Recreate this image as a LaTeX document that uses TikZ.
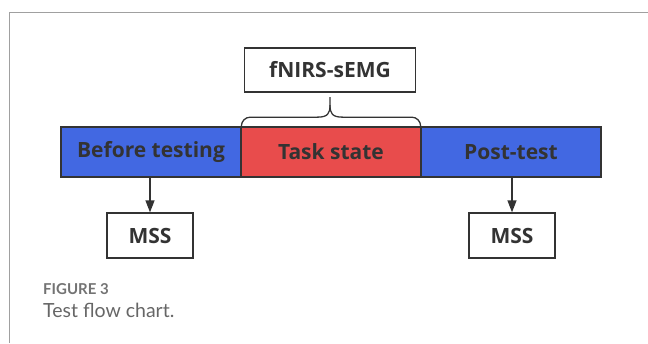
\documentclass[tikz,border=0pt]{standalone}
\usepackage{fontspec}
\setmainfont{Open Sans}
\newfontfamily\capfont{Lato}
\usetikzlibrary{arrows.meta,calc}
\definecolor{blueA}{RGB}{66,104,226}
\definecolor{redA}{RGB}{232,76,76}
\definecolor{ink}{RGB}{51,51,51}
\definecolor{framegray}{RGB}{160,160,160}
\tikzset{
  seg/.style={draw=ink, line width=1.3pt, minimum width=180pt, minimum height=50pt, inner sep=0pt,
    font=\fontsize{21}{24}\selectfont\bfseries, text=ink},
  wbox/.style={draw=ink, line width=1.3pt, fill=white, inner sep=0pt,
    font=\fontsize{21}{24}\selectfont\bfseries, text=ink},
  arr/.style={draw=ink, line width=1.3pt, -{Triangle[length=12pt,width=9pt]}},
  bracepath/.style={draw=ink, line width=1.3pt, line join=round},
  captop/.style={font=\capfont\bfseries\fontsize{15}{18}\selectfont, text=black!55, inner sep=0pt, anchor=base west},
  capline/.style={font=\capfont\fontsize{19.5}{23}\selectfont, text=black!60, inner sep=0pt, anchor=base west},
}
\begin{document}
\begin{tikzpicture}[x=1pt,y=-1pt]
\useasboundingbox (0,0) rectangle (648,343);
% frame
\draw[framegray, line width=1pt] (9,343) -- (9,12) -- (648,12);
% bar
\node[seg, fill=blueA] (before) at (151,152) {Before testing};
\node[seg, fill=redA] (task) at (331,152) {Task state};
\node[seg, fill=blueA] (post) at (511,152) {Post-test};
% top box
\node[wbox, minimum width=171pt, minimum height=44pt] (fnirs) at (330,70) {fNIRS-sEMG};
% MSS boxes
\node[wbox, minimum width=86pt, minimum height=45pt] (mss1) at (150,235.5) {MSS};
\node[wbox, minimum width=86pt, minimum height=45pt] (mss2) at (512,235.5) {MSS};
% arrows
\draw[arr] (before.south -| mss1.north) -- (mss1.north);
\draw[arr] (post.south -| mss2.north) -- (mss2.north);
% brace
\coordinate (bl) at ([xshift=1pt]task.north west);
\coordinate (br) at ([xshift=-1pt]task.north east);
\coordinate (tip) at ($(fnirs.south)+(0,4.5)$);
\coordinate (hl) at (bl |- {$(tip)+(0,20)$});
\coordinate (hr) at (br |- {$(tip)+(0,20)$});
\draw[bracepath, rounded corners=9pt] (bl) -- (hl) -- ($(tip)+(-12,20)$);
\draw[bracepath] ($(tip)+(-12.5,20)$) .. controls ($(tip)+(-2,20)$) and ($(tip)+(0,16)$) .. ($(tip)+(0,8)$) -- (tip);
\draw[bracepath, rounded corners=9pt] (br) -- (hr) -- ($(tip)+(12,20)$);
\draw[bracepath] ($(tip)+(12.5,20)$) .. controls ($(tip)+(2,20)$) and ($(tip)+(0,16)$) .. ($(tip)+(0,8)$);
% caption
\node[captop] (fig) at (43,294) {FIGURE 3};
\node[capline] (cap) at (43,317) {Test flow chart.};
\end{tikzpicture}
\end{document}
